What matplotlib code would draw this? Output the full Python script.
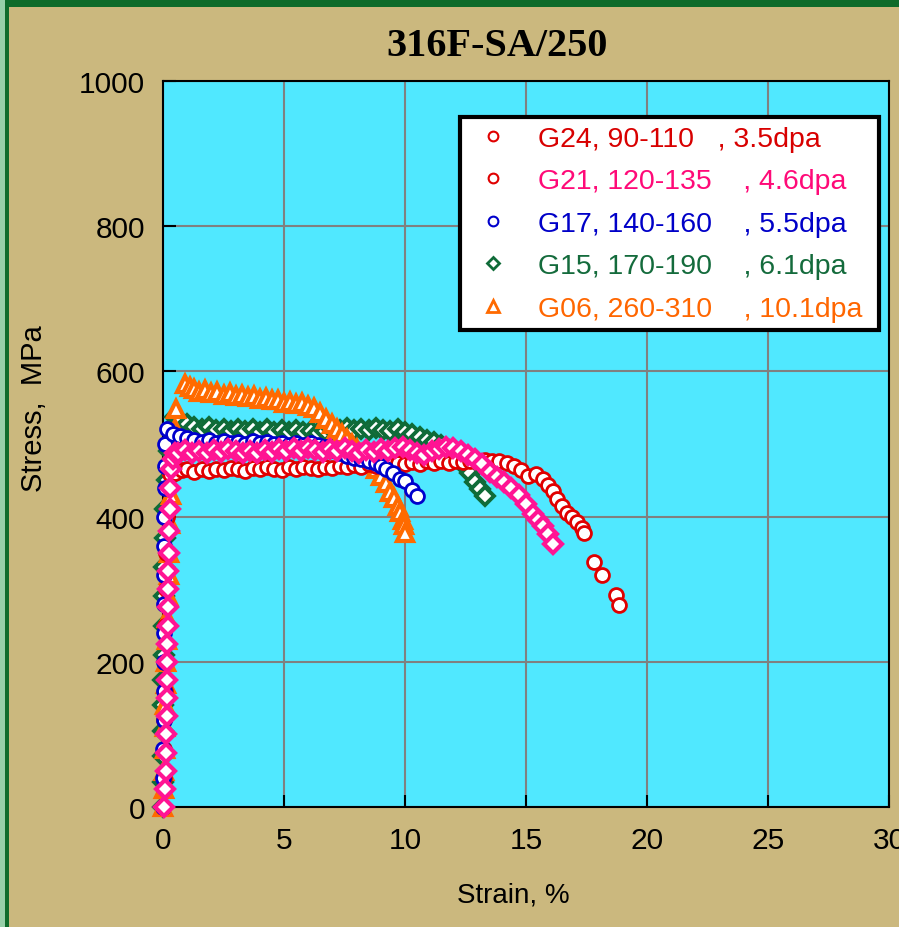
import matplotlib
matplotlib.use("Agg")
import matplotlib.pyplot as plt
from matplotlib.lines import Line2D
from matplotlib.patches import Rectangle

plt.rcParams['font.family'] = ['Liberation Sans', 'DejaVu Sans']

# G24, 3.5dpa (red circles)
g24_strain = [0.00, 0.03, 0.05, 0.06, 0.08, 0.09, 0.10, 0.12, 0.14, 0.16,
              0.20, 0.30, 0.5, 0.8,
              1.0, 1.3, 1.6, 1.9, 2.2, 2.5, 2.8, 3.1, 3.4, 3.7,
              4.0, 4.3, 4.6, 4.9, 5.2, 5.5, 5.8, 6.1, 6.4, 6.7,
              7.0, 7.3, 7.6, 7.9, 8.2, 8.5, 8.8, 9.1, 9.4, 9.7,
              10.0, 10.3, 10.6, 10.9, 11.2, 11.5, 11.8, 12.1, 12.4, 12.7,
              13.0, 13.3, 13.6, 13.9, 14.2, 14.5, 14.8,
              15.1, 15.4, 15.7,
              15.9, 16.1, 16.3, 16.5, 16.7, 16.9, 17.1, 17.3,
              17.4, 17.8, 18.15, 18.7, 18.85]
g24_stress = [0, 40, 80, 120, 160, 200, 250, 300, 350, 400,
              440, 458, 460, 464,
              466, 462, 465, 463, 466, 464, 467, 465, 463, 467,
              465, 468, 466, 464, 468, 466, 469, 467, 465, 469,
              467, 470, 468, 471, 469, 472, 470, 473, 471, 474,
              472, 475, 473, 476, 474, 476, 474, 477, 475, 477,
              476, 478, 477, 476, 474, 470, 464,
              456, 458, 452,
              444, 435, 424, 414, 405, 400, 393, 384,
              378, 337, 320, 292, 278]

# G21, 4.6dpa (pink diamonds)
g21_strain = [0.05, 0.10, 0.12, 0.13, 0.14, 0.15, 0.16, 0.17, 0.17, 0.18,
              0.19, 0.20, 0.21, 0.22, 0.23, 0.25, 0.27, 0.30, 0.35, 0.40,
              0.50,
              0.6, 0.9, 1.2, 1.5, 1.8, 2.1, 2.4, 2.7, 3.0, 3.3,
              3.6, 3.9, 4.2, 4.5, 4.8, 5.1, 5.4, 5.7, 6.0, 6.3,
              6.6, 6.9, 7.2, 7.5, 7.8, 8.1, 8.4, 8.7, 9.0, 9.3,
              9.6, 9.9, 10.2, 10.5, 10.8, 11.1, 11.4, 11.7, 12.0, 12.3,
              12.6, 12.9, 13.2, 13.5, 13.8, 14.1, 14.4, 14.7, 15.0, 15.3,
              15.5, 15.7, 15.9, 16.1]
g21_stress = [0, 25, 50, 75, 100, 125, 150, 175, 200, 225,
              250, 275, 300, 325, 350, 380, 410, 440, 465, 480,
              488,
              488, 492, 487, 491, 488, 492, 489, 493, 490, 487,
              491, 488, 492, 489, 493, 490, 494, 491, 495, 492,
              489, 493, 490, 494, 491, 488, 492, 489, 493, 490,
              494, 496, 492, 488, 485, 490, 493, 496, 495, 490,
              485, 479, 472, 462, 454, 447, 440, 430, 418, 404,
              396, 387, 376, 362]

# G17, 5.5dpa (blue circles)
g17_strain = [0.00, 0.01, 0.02, 0.03, 0.03, 0.04, 0.04, 0.05, 0.05, 0.06,
              0.06, 0.07, 0.08, 0.10, 0.15,
              0.4, 0.7, 1.0, 1.3, 1.6, 1.9, 2.2, 2.5, 2.8, 3.1,
              3.4, 3.7, 4.0, 4.3, 4.6, 4.9, 5.2, 5.5, 5.8, 6.1,
              6.4, 6.7, 7.0, 7.3, 7.6, 7.9, 8.2, 8.5, 8.8, 9.0,
              9.2, 9.5, 9.8, 10.0, 10.3, 10.5]
g17_stress = [0, 40, 80, 120, 160, 200, 240, 280, 320, 360,
              400, 440, 470, 500, 520,
              514, 511, 508, 505, 503, 505, 502, 504, 501, 503,
              500, 504, 501, 503, 500, 502, 499, 502, 499, 501,
              498, 496, 492, 487, 483, 481, 479, 477, 474, 470,
              466, 460, 452, 449, 436, 428]

# G15, 6.1dpa (green diamonds)
g15_strain = [0.00, 0.00, 0.01, 0.01, 0.02, 0.02, 0.03, 0.04, 0.05, 0.06,
              0.08, 0.10, 0.15, 0.25, 0.40, 0.50,
              0.7, 1.0, 1.3, 1.6, 1.9, 2.2, 2.5, 2.8, 3.1, 3.4,
              3.7, 4.0, 4.3, 4.6, 4.9, 5.2, 5.5, 5.8, 6.1, 6.4,
              6.7, 7.0, 7.3, 7.6, 7.9, 8.2, 8.5, 8.8, 9.1, 9.4,
              9.7, 10.0, 10.3, 10.6, 10.9, 11.2, 11.5, 11.8, 12.1, 12.4,
              12.7, 12.9, 13.1, 13.3]
g15_stress = [0, 35, 70, 105, 140, 175, 210, 250, 290, 330,
              370, 410, 450, 490, 525, 537,
              532, 527, 524, 521, 523, 519, 521, 518, 521, 518,
              520, 517, 520, 517, 519, 516, 519, 516, 518, 515,
              518, 521, 519, 522, 519, 521, 519, 522, 519, 518,
              520, 516, 514, 510, 505, 503, 498, 492, 483, 472,
              460, 448, 438, 428]

# G06, 10.1dpa (orange triangles)
g06_strain = [0.00, 0.03, 0.05, 0.07, 0.08, 0.10, 0.12, 0.14, 0.16, 0.18,
              0.20, 0.23, 0.26, 0.30, 0.35, 0.42, 0.50, 0.55,
              0.90, 1.10, 1.30, 1.50, 1.75, 2.00, 2.25, 2.50, 2.75, 3.00,
              3.25, 3.50, 3.75, 4.00, 4.25, 4.50, 4.75, 5.00, 5.25, 5.50,
              5.75, 6.00, 6.25, 6.50, 6.75, 7.00, 7.20, 7.40, 7.60, 7.80,
              8.00, 8.20, 8.40, 8.60, 8.80, 9.00, 9.20, 9.40, 9.55, 9.70,
              9.80, 9.90, 9.95, 10.00]
g06_stress = [0, 25, 50, 80, 110, 140, 170, 200, 230, 260,
              290, 320, 350, 390, 430, 470, 521, 548,
              582, 578, 576, 572, 574, 570, 571, 568, 570, 566,
              567, 565, 566, 562, 563, 560, 561, 557, 558, 555,
              556, 552, 550, 543, 535, 527, 521, 514, 507, 500,
              493, 486, 479, 472, 465, 456, 446, 434, 425, 414,
              406, 396, 388, 377]

labels = ["G24, 90-110   , 3.5dpa",
          "G21, 120-135    , 4.6dpa",
          "G17, 140-160    , 5.5dpa",
          "G15, 170-190    , 6.1dpa",
          "G06, 260-310    , 10.1dpa "]
text_colors = ['#D80000', '#FF0A78', '#0000C8', '#146B3C', '#FF6600']

red = '#E00000'
pink = '#FF1493'
blue = '#0000CC'
green = '#0F6B38'
orange = '#FF6A00'

fig = plt.figure(figsize=(8.99, 9.28), dpi=100, facecolor='#CBB87E')
# page border
fig.patches.append(Rectangle((0, 1 - 8/928), 1, 8/928, transform=fig.transFigure,
                             facecolor='#0E6B2A', edgecolor='none', zorder=0))
fig.patches.append(Rectangle((0, 0), 5/899, 1, transform=fig.transFigure,
                             facecolor='#96CFA8', edgecolor='none', zorder=0))
fig.patches.append(Rectangle((5/899, 0), 4/899, 1, transform=fig.transFigure,
                             facecolor='#0E6B2A', edgecolor='none', zorder=0))

ax = fig.add_axes([163/899, 120/928, 726/899, 726/928])
ax.set_facecolor('#50E8FF')

ax.plot(g15_strain, g15_stress, ls='', marker='D', ms=9, mfc='white', mec=green,
        mew=2.8, clip_on=False, zorder=3.0)
ax.plot(g06_strain, g06_stress, ls='', marker='^', ms=12, mfc='white', mec=orange,
        mew=3, clip_on=False, zorder=3.2)
ax.plot(g24_strain, g24_stress, ls='', marker='o', ms=10, mfc='white', mec=red,
        mew=2, clip_on=False, zorder=3.4)
ax.plot(g17_strain, g17_stress, ls='', marker='o', ms=10, mfc='white', mec=blue,
        mew=2, clip_on=False, zorder=3.6)
ax.plot(g21_strain, g21_stress, ls='', marker='D', ms=9, mfc='white', mec=pink,
        mew=3, clip_on=False, zorder=3.8)

ax.set_xlim(0, 30)
ax.set_ylim(0, 1000)
ax.set_xticks([0, 5, 10, 15, 20, 25, 30])
ax.set_yticks([0, 200, 400, 600, 800, 1000])
ax.grid(True, color='#808080', lw=1.5)
ax.set_axisbelow(True)
ax.tick_params(axis='both', direction='in', length=9, width=1.5, labelsize=21.5,
               colors='black')
ax.tick_params(axis='x', pad=14)
ax.tick_params(axis='y', pad=13)
for s in ax.spines.values():
    s.set_linewidth(1.5)
    s.set_color('black')

ax.set_xlabel("Strain, %", fontsize=20)
ax.set_ylabel("Stress,  MPa", fontsize=21)
ax.xaxis.set_label_coords(0.482, -0.103)
ax.yaxis.set_label_coords(-0.158, 0.55)

fig.text(497/899, 1 - 46/928, "316F-SA/250", family='Liberation Serif',
         fontweight='bold', fontsize=29, ha='center', va='center')

handles = [
    Line2D([], [], ls='', marker='o', ms=7, mfc='white', mec=red, mew=1.5),
    Line2D([], [], ls='', marker='o', ms=7, mfc='white', mec=red, mew=1.5),
    Line2D([], [], ls='', marker='o', ms=7, mfc='white', mec=blue, mew=1.5),
    Line2D([], [], ls='', marker='D', ms=6, mfc='white', mec=green, mew=2),
    Line2D([], [], ls='', marker='^', ms=8, mfc='white', mec=orange, mew=2),
]
leg = ax.legend(handles, labels, loc='upper left', bbox_to_anchor=(0.409, 0.950),
                fontsize=20.5, frameon=True, fancybox=False, framealpha=1,
                facecolor='white', edgecolor='black', borderpad=0.3,
                handlelength=1.7, handletextpad=0.75, labelspacing=0.58,
                borderaxespad=0)
leg.get_frame().set_linewidth(3)
leg.set_zorder(10)
for t, c in zip(leg.get_texts(), text_colors):
    t.set_color(c)

fig.savefig("out.png", dpi=100, facecolor=fig.get_facecolor())
